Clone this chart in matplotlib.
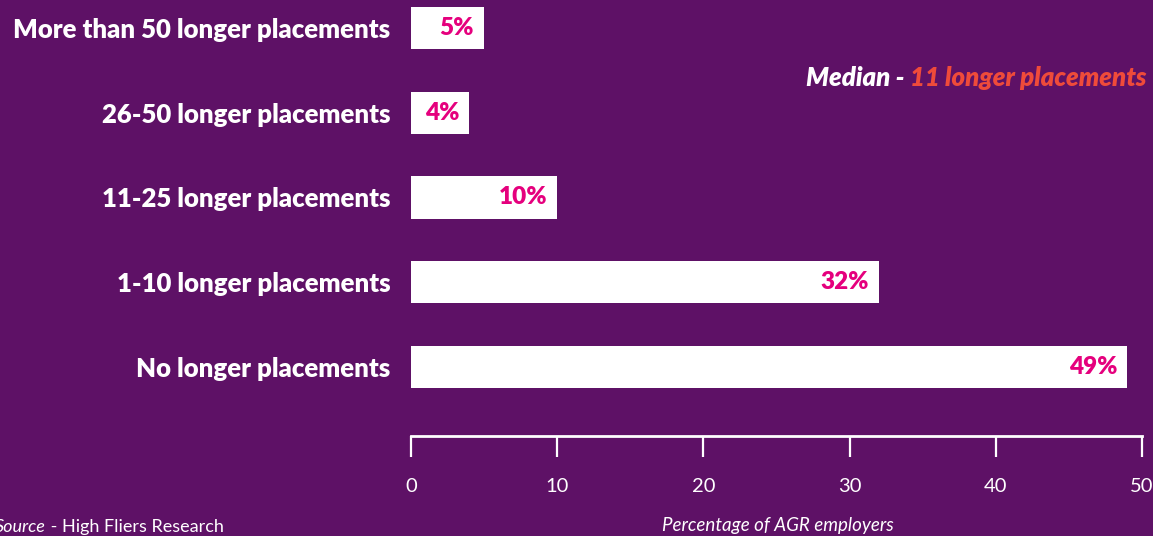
import matplotlib
matplotlib.use("Agg")
import matplotlib.pyplot as plt

# survey results: share of AGR employers by number of longer placements
categories = ["No longer placements", "1-10 longer placements", "11-25 longer placements",
              "26-50 longer placements", "More than 50 longer placements"]
shares = [49, 32, 10, 4, 5]
ticks = [0, 10, 20, 30, 40, 50]

median_lead = "Median - "
median_value = "11 longer placements"
source_lead = "Source"
source_rest = " - High Fliers Research"
xlabel = "Percentage of AGR employers"

bg = "#5e1166"
pink = "#e5007d"
orange = "#ef4b3a"
font = "Lato"

W, H, DPI = 1153, 536, 100
fig = plt.figure(figsize=(W / DPI, H / DPI), dpi=DPI, facecolor=bg)
ax = fig.add_axes([411 / W, (H - 436) / H, (1142 - 411) / W, 436 / H])
ax.set_facecolor(bg)

ypos = list(range(len(categories)))
ax.barh(ypos, shares, height=0.5, color="white", zorder=2)
for y, v in zip(ypos, shares):
    ax.annotate(f"{v}%", (v, y), xytext=(-10, 0), textcoords="offset pixels",
                ha="right", va="center", color=pink, fontsize=17.5,
                fontweight="heavy", family=font)

ax.set_xlim(0, 50)
ax.set_ylim(-0.814, 4.33)
ax.set_xticks(ticks)
ax.set_xticklabels([str(t) for t in ticks], family=font, fontsize=14.5, color="white")
ax.set_yticks(ypos)
ax.set_yticklabels(categories, family=font, fontsize=18.5, fontweight="heavy", color="white")
ax.tick_params(axis="y", length=0, pad=15)
ax.tick_params(axis="x", direction="out", length=15, width=1.6, color="white", pad=15)

for s in ["top", "right", "left"]:
    ax.spines[s].set_visible(False)
ax.spines["bottom"].set_color("white")
ax.spines["bottom"].set_linewidth(2)
ax.spines["bottom"].set_capstyle("projecting")

fig.text(778 / W, (H - 525) / H, xlabel, ha="center", va="center",
         color="white", fontsize=13.5, style="italic", family=font)

# median note, two colours on one line
fig.canvas.draw()
r = fig.canvas.get_renderer()
t_val = fig.text(1146 / W, (H - 78) / H, median_value, ha="right", va="center",
                 color=orange, fontsize=18.5, style="italic", fontweight="heavy", family=font)
bb = t_val.get_window_extent(r)
fig.text(bb.x0 / W, (H - 78) / H, median_lead, ha="right", va="center",
         color="white", fontsize=18.5, style="italic", fontweight="heavy", family=font)

t_src = fig.text(-5 / W, (H - 527) / H, source_lead, ha="left", va="center",
                 color="white", fontsize=13, style="italic", family=font)
bb = t_src.get_window_extent(r)
fig.text(bb.x1 / W, (H - 527) / H, source_rest, ha="left", va="center",
         color="white", fontsize=13, family=font)

fig.savefig("out.png", dpi=DPI, facecolor=bg)
